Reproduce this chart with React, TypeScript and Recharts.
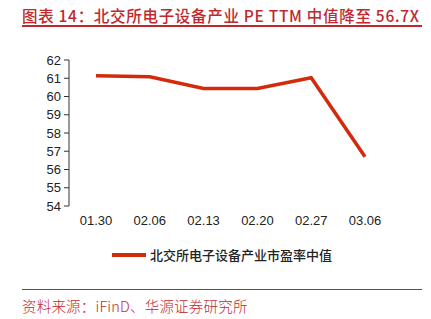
import { Legend, Line, LineChart, XAxis, YAxis } from "recharts";

const dates = ["01.30", "02.06", "02.13", "02.20", "02.27", "03.06"];
const peMedian = [61.14, 61.08, 60.44, 60.44, 61.03, 56.7];
const yTicks = [54, 55, 56, 57, 58, 59, 60, 61, 62];
const bandEdges = [0, 1, 2, 3, 4, 5, 6];

const SERIES_NAME = "北交所电子设备产业市盈率中值";
const RED = "#d32a0c";
const TITLE_RED = "#c0282e";
const CJK = '"Noto Sans CJK SC", "Noto Sans", sans-serif';
const LATIN = '"Liberation Sans", Arial, sans-serif';

const data = dates.map((d, i) => ({ date: d, pe: peMedian[i] }));

function LegendBox() {
  return (
    <div style={{ display: "flex", alignItems: "center", whiteSpace: "nowrap" }}>
      <svg width={38} height={8}>
        <line x1={0} y1={4} x2={34} y2={4} stroke={RED} strokeWidth={4} />
      </svg>
      <span style={{ fontFamily: CJK, fontSize: 13, color: "#222", fontWeight: 500 }}>
        {SERIES_NAME}
      </span>
    </div>
  );
}

export default function App() {
  return (
    <div
      style={{
        position: "absolute",
        left: 0,
        top: 0,
        width: 431,
        height: 319,
        background: "#fff",
        overflow: "hidden",
      }}
    >
      <div
        style={{
          position: "absolute",
          left: 22,
          top: 5,
          fontFamily: CJK,
          fontSize: 15.5,
          fontWeight: 500,
          letterSpacing: 0.7,
          color: TITLE_RED,
          whiteSpace: "pre",
          lineHeight: "20px",
        }}
      >
        图表 14：北交所电子设备产业 PE TTM 中值降至 56.7X
      </div>
      <div
        style={{
          position: "absolute",
          left: 22,
          top: 25,
          width: 400,
          height: 1.5,
          background: TITLE_RED,
        }}
      />

      <div style={{ position: "absolute", left: 0, top: 0 }}>
        <LineChart
          width={431}
          height={236}
          data={data}
          margin={{ top: 60, right: 39, bottom: 0, left: 0 }}
        >
          <XAxis
            xAxisId="edges"
            type="number"
            domain={[0, 6]}
            ticks={bandEdges}
            interval={0}
            tick={false}
            height={0}
            stroke="#333"
            tickSize={5}
          />
          <XAxis
            dataKey="date"
            padding={{ left: 27, right: 27 }}
            axisLine={false}
            tickLine={false}
            tickMargin={4}
            interval={0}
            height={30}
            tick={{ fontSize: 13, fill: "#222", fontFamily: LATIN }}
          />
          <YAxis
            domain={[54, 62]}
            ticks={yTicks}
            interval={0}
            width={69}
            stroke="#333"
            tickSize={5}
            tickMargin={3}
            tick={{ fontSize: 13, fill: "#222", fontFamily: LATIN }}
          />
          <Legend
            layout="horizontal"
            verticalAlign="middle"
            wrapperStyle={{ left: 112, top: 245, width: "auto" }}
            content={() => <LegendBox />}
          />
          <Line
            type="linear"
            dataKey="pe"
            name={SERIES_NAME}
            stroke={RED}
            strokeWidth={3.5}
            dot={false}
            activeDot={false}
            isAnimationActive={false}
          />
        </LineChart>
      </div>

      <div
        style={{
          position: "absolute",
          left: 22,
          top: 289,
          width: 400,
          height: 1,
          background: TITLE_RED,
        }}
      />
      <div
        style={{
          position: "absolute",
          left: 22,
          top: 296,
          fontFamily: CJK,
          fontSize: 14.5,
          fontWeight: 300,
          letterSpacing: 0.2,
          color: TITLE_RED,
          whiteSpace: "pre",
          lineHeight: "20px",
        }}
      >
        资料来源：iFinD、华源证券研究所
      </div>
    </div>
  );
}
